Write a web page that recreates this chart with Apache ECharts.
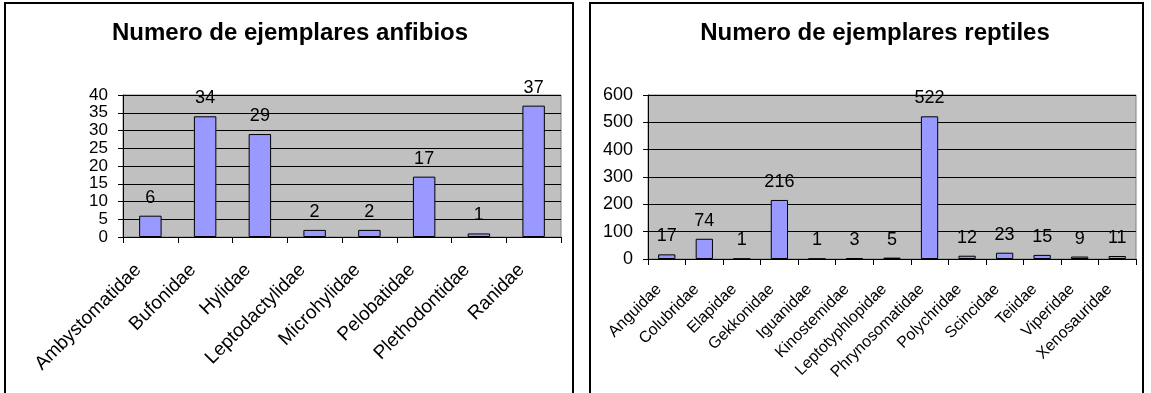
<!DOCTYPE html>
<html>
<head>
<meta charset="utf-8">
<script src="https://cdn.jsdelivr.net/npm/echarts@6/dist/echarts.min.js"></script>
<style>
  html, body { margin: 0; padding: 0; background: #fff; }
  #chart { width: 1151px; height: 393px; }
</style>
</head>
<body>
<div id="chart"></div>
<script>
// Amphibian families and specimen counts
const amphibianFamilies = ['Ambystomatidae', 'Bufonidae', 'Hylidae', 'Leptodactylidae', 'Microhylidae', 'Pelobatidae', 'Plethodontidae', 'Ranidae'];
const amphibianCounts = [6, 34, 29, 2, 2, 17, 1, 37];

// Reptile families and specimen counts
const reptileFamilies = ['Anguidae', 'Colubridae', 'Elapidae', 'Gekkonidae', 'Iguanidae', 'Kinostemidae', 'Leptotyphlopidae', 'Phrynosomatidae', 'Polychridae', 'Scincidae', 'Teiidae', 'Viperidae', 'Xenosauridae'];
const reptileCounts = [17, 74, 1, 216, 1, 3, 5, 522, 12, 23, 15, 9, 11];

const titles = ['Numero de ejemplares anfibios', 'Numero de ejemplares reptiles'];

const FONT = "'Liberation Sans', Arial, sans-serif";
const BAR = '#9999FF';

const chart = echarts.init(document.getElementById('chart'), null, { renderer: 'canvas' });

function valueAxis(gridIndex, max, interval, fontSize) {
  return {
    type: 'value', gridIndex, min: 0, max, interval,
    axisLine: { show: true, lineStyle: { color: '#000', width: 1 } },
    axisTick: { show: true, length: 5, lineStyle: { color: '#000' } },
    axisLabel: {
      color: '#000', fontFamily: FONT, fontSize, margin: 15,
      showMinLabel: true, showMaxLabel: true
    },
    splitLine: { show: true, lineStyle: { color: '#000', width: 1 } }
  };
}

function categoryAxis(gridIndex, data, fontSize, margin, shift) {
  return {
    type: 'category', gridIndex, data,
    axisLine: { show: true, lineStyle: { color: '#000', width: 1 } },
    axisTick: { show: true, length: 6, lineStyle: { color: '#000' } },
    axisLabel: { color: '#000', fontFamily: FONT, fontSize, rotate: 45, interval: 0, margin, padding: [0, shift, 0, 0] }
  };
}

function barSeries(idx, data, width) {
  return {
    type: 'bar', xAxisIndex: idx, yAxisIndex: idx, data,
    barWidth: width,
    itemStyle: { color: BAR, borderColor: '#000', borderWidth: 1 },
    label: { show: true, position: 'top', distance: 9, color: '#000', fontFamily: FONT, fontSize: 18 },
    animation: false
  };
}

chart.setOption({
  animation: false,
  grid: [
    { left: 123, top: 95, width: 438, height: 142, show: true, backgroundColor: '#C0C0C0', borderColor: '#808080', borderWidth: 1 },
    { left: 648, top: 95, width: 488, height: 164, show: true, backgroundColor: '#C0C0C0', borderColor: '#808080', borderWidth: 1 }
  ],
  xAxis: [
    categoryAxis(0, amphibianFamilies, 19, 18, 17),
    categoryAxis(1, reptileFamilies, 16, 20, 11)
  ],
  yAxis: [
    valueAxis(0, 40, 5, 17),
    valueAxis(1, 600, 100, 18)
  ],
  series: [
    barSeries(0, amphibianCounts, '41%'),
    barSeries(1, reptileCounts, '46%')
  ],
  graphic: [
    { type: 'rect', shape: { x: 5, y: 3, width: 568, height: 400 }, style: { fill: 'none', stroke: '#000', lineWidth: 2 }, silent: true },
    { type: 'rect', shape: { x: 590, y: 3, width: 553, height: 400 }, style: { fill: 'none', stroke: '#000', lineWidth: 2 }, silent: true },
    { type: 'text', x: 290, y: 33, style: { text: titles[0], fill: '#000', font: "bold 24px 'Liberation Sans', Arial, sans-serif", textAlign: 'center', textVerticalAlign: 'middle' }, silent: true },
    { type: 'text', x: 875, y: 33, style: { text: titles[1], fill: '#000', font: "bold 24px 'Liberation Sans', Arial, sans-serif", textAlign: 'center', textVerticalAlign: 'middle' }, silent: true }
  ]
});
</script>
</body>
</html>
